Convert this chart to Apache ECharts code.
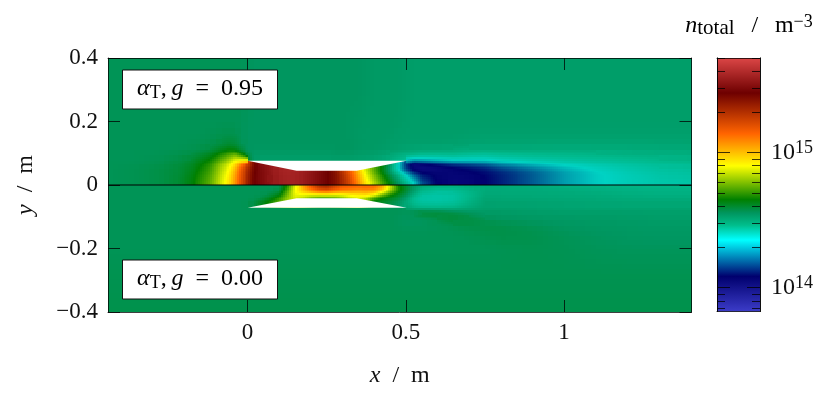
<!DOCTYPE html>
<html><head><meta charset="utf-8">
<style>html,body{margin:0;padding:0;background:#fff}#c{width:831px;height:400px}</style>
<script src="https://cdn.jsdelivr.net/npm/echarts@6/dist/echarts.min.js"></script>
</head><body><div id="c"></div>
<script>
// Field values: v = (log10(n_total) - 14) * 100.
const xEdges=[-0.441,-0.36,-0.28,-0.22,-0.18,-0.15,-0.12,-0.10,-0.08,-0.06,-0.04,-0.02,0,0.02,0.04,0.06,0.08,0.10,0.125,0.15,0.175,0.2,0.225,0.25,0.275,0.3,0.325,0.35,0.375,0.4,0.425,0.45,0.475,0.5,0.525,0.55,0.6,0.65,0.7,0.75,0.8,0.9,1.0,1.1,1.2,1.3,1.403];
const yEdgesUpper=[0.4,0.28,0.2,0.16,0.13,0.11,0.095,0.0765,0.065,0.05,0.04,0.03,0.02,0.01,0];
const yEdgesLower=[0,-0.01,-0.02,-0.03,-0.04,-0.05,-0.0715,-0.08,-0.095,-0.11,-0.13,-0.16,-0.2,-0.28,-0.4];
const upperRows=[
[56,56,56,56,56,56,56,56,56,56,56,56,55,55,55,55,55,55,55,55,55,55,55,55,55,55,55,55,54,54,54,54,54,53,53,53,53,53,53,53,53,53,53,53,53,53],
[56,56,56,56,56,56,56,56,56,56,56,56,55,55,55,55,55,55,55,55,55,55,55,55,55,55,55,55,54,54,54,54,54,53,53,53,53,53,53,53,53,53,53,53,53,53],
[56,56,56,56,56,56,56,56,56,56,56,55,55,55,55,55,55,55,55,55,55,55,55,55,55,55,54,54,54,54,54,54,53,53,53,53,53,53,53,53,53,53,53,53,53,53],
[56,56,56,56,56,56,57,57,58,58,57,55,55,55,55,55,55,55,55,55,55,55,55,55,55,55,55,54,54,54,54,53,53,53,53,53,53,53,52,52,52,52,52,52,52,52],
[56,56,56,56,57,57,58,59,61,62,59,55,55,55,55,55,55,55,55,55,55,55,55,55,55,55,55,54,54,54,53,53,53,52,52,52,52,51,51,51,51,50,50,50,50,51],
[56,56,56,57,57,59,61,64,67,69,67,57,54,54,54,54,54,54,54,54,54,54,54,54,55,55,54,54,54,53,53,52,51,50,50,48,49,48,47,47,48,48,48,49,49,49],
[56,56,57,58,60,63,66,70,75,81,88,68,55,53,53,53,53,53,53,53,53,53,53,53,53,53,53,52,52,51,50,48,45,44,42,40,42,42,38,40,42,44,45,46,47,48],
[56,56,57,59,62,65,70,76,82,88,97,112,132,150,150,153,156,157,158,157,154,150,147,143,134,120,106,90,78,70,60,48,30,5,8,14,20,24,24,28,33,37,40,42,44,46],
[56,57,58,60,63,67,73,79,85,92,106,124,138,146,150,153,156,157,158,157,154,150,147,143,134,120,106,90,78,70,60,48,20,3,2,2,6,9,12,16,23,30,36,39,42,44],
[56,57,58,60,64,68,74,80,87,95,109,126,140,146,149,152,155,157,158,157,154,150,147,143,135,123,110,92,79,68,58,47,30,12,6,4,6,7,9,11,17,25,33,37,41,43],
[56,57,58,60,65,69,75,81,88,96,111,127,141,146,149,152,155,157,157,156,153,150,146,143,136,125,112,94,81,71,61,52,40,22,12,7,6,6,8,10,15,24,32,36,40,42],
[56,57,58,61,65,70,76,82,89,98,112,127,142,146,149,152,154,156,157,156,153,150,146,143,137,127,114,96,84,73,64,55,46,30,18,8,6,5,7,9,15,24,32,36,39,42],
[56,57,58,61,66,71,77,83,90,99,113,128,142,146,149,152,154,156,157,156,153,150,146,143,137,128,116,98,86,76,66,58,49,38,24,9,6,5,7,9,15,24,32,36,39,41],
[56,57,58,61,66,71,77,83,90,99,113,128,142,146,148,152,154,156,157,156,153,149,146,143,137,128,117,100,88,78,68,60,52,42,28,10,6,5,7,9,15,24,32,36,39,41]
];
const lowerRows=[
[56,56,56,56,56,56,56,56,56,56,56,56,56,56,56,56,56,57,78,95,112,122,135,128,118,116,114,112,115,110,97,72,62,58,52,48,48,48,50,50,50,49,48,48,47,47],
[56,56,56,56,56,56,56,56,56,56,56,56,56,56,56,56,56,58,84,95,108,116,125,120,114,112,110,108,112,106,95,75,64,57,50,45,45,46,50,50,50,50,49,48,48,48],
[56,56,56,56,56,56,56,56,56,56,56,56,56,56,56,57,59,62,86,92,98,102,108,104,100,100,100,98,102,92,80,65,62,55,48,42,42,43,50,50,50,50,50,49,48,48],
[56,56,56,56,56,56,56,56,56,56,56,56,56,56,57,60,64,68,88,86,78,72,70,72,74,80,86,88,90,72,64,62,58,50,42,40,41,42,51,51,51,50,50,50,49,49],
[56,56,56,56,56,56,56,56,56,56,56,56,56,57,60,64,68,76,84,86,78,72,70,72,74,80,86,88,66,64,62,60,56,48,42,40,41,43,52,51,51,51,51,50,50,50],
[56,56,56,56,56,56,56,56,56,56,56,56,57,60,65,68,72,76,84,86,78,72,70,72,74,80,86,88,63,62,58,56,52,46,44,42,43,44,52,52,52,52,51,51,51,51],
[56,56,56,56,56,56,56,56,56,56,56,56,56,56,56,56,56,56,56,56,56,56,56,56,56,56,56,56,56,56,56,56,56,54,52,52,52,52,53,53,53,52,52,52,52,52],
[56,56,56,56,56,56,56,56,56,56,56,56,56,56,56,56,56,56,56,56,56,56,56,56,56,56,56,56,56,56,56,56,56,56,60,62,58,55,54,54,54,53,53,53,53,53],
[56,56,56,56,56,56,56,56,56,56,56,56,56,56,56,56,56,56,56,56,56,56,56,56,56,56,56,56,56,56,56,56,55,55,55,56,60,61,56,55,54,54,54,54,53,53],
[56,56,56,56,56,56,56,56,56,56,56,56,56,56,56,56,56,56,56,56,56,56,56,56,56,56,56,56,56,56,56,56,55,55,55,55,56,58,58,57,56,55,54,54,54,54],
[56,56,56,56,56,56,56,56,56,56,56,56,56,56,56,56,56,56,56,56,56,56,56,56,56,56,56,56,56,56,56,56,56,56,56,56,56,56,57,58,58,56,55,55,54,54],
[56,56,56,56,56,56,56,56,56,56,56,56,56,56,56,56,56,56,56,56,56,56,56,56,56,56,56,56,56,56,56,56,56,56,56,56,56,56,56,56,57,57,56,55,55,55],
[56,56,56,56,56,56,56,56,56,56,56,56,56,56,56,56,56,56,56,56,56,56,56,56,56,56,56,56,56,56,56,56,56,56,56,56,56,56,56,56,56,56,56,56,56,56],
[57,57,57,57,57,57,57,57,57,57,57,57,57,57,57,57,57,57,57,57,57,57,57,57,57,57,57,57,57,57,57,57,57,57,57,57,57,57,57,57,57,57,57,57,57,57]
];
const holeUpper=[[0,0.0765],[0.155,0.045],[0.345,0.045],[0.503,0.0765]];
const holeLower=[[0,-0.0715],[0.155,-0.042],[0.345,-0.042],[0.503,-0.0715]];
const xTicks=[0,0.5,1];
const yTicks=[-0.4,-0.2,0,0.2,0.4];
const cbMajor=[14,15];
const cbMinor=[13.845,13.903,13.954,14.301,14.477,14.602,14.699,14.778,14.845,14.903,14.954,15.301,15.477,15.602,15.699];
const barStops=[[-18,[60,60,200]],[8,[0,0,110]],[35,[0,255,255]],[46,[0,190,140]],[55,[0,150,95]],[65,[0,128,0]],[90,[255,255,0]],[114,[255,100,0]],[144,[110,0,0]],[170,[220,70,70]]];
const fieldStops=[[-18,[60,60,200]],[8,[0,0,110]],[35,[0,210,195]],[46,[0,185,140]],[55,[0,150,95]],[65,[0,128,0]],[90,[255,255,0]],[114,[255,100,0]],[144,[110,0,0]],[170,[220,70,70]]];

const vMin=barStops[0][0],vMax=barStops[barStops.length-1][0];
function colorOf(v){
  const st=fieldStops;
  for(let i=1;i<st.length;i++){
    if(v<=st[i][0]){
      const a=st[i-1],b=st[i],t=Math.max(0,(v-a[0])/(b[0]-a[0]));
      return 'rgb('+a[1].map((c,k)=>Math.round(c+(b[1][k]-c)*t)).join(',')+')';
    }
  }
  return 'rgb('+st[st.length-1][1].join(',')+')';
}
// Shading of a cell: the corners take the mean of the cells that meet there, except across the
// wall (the flat edge of the white structure), where the field is not continuous.
function cornerValues(rows,breakEdge,ci,cj){
  const corner=(ex,ey)=>{
    let s=0,n=0;
    for(const a of [ex-1,ex]) for(const b of [ey-1,ey]){
      if(!rows[b]||rows[b][a]===undefined) continue;
      const wall=ey===breakEdge&&b!==cj&&ci>=12&&ci<=32;
      if(wall) continue;
      s+=rows[b][a];n++;
    }
    return s/n;
  };
  return [corner(ci,cj),corner(ci+1,cj),corner(ci,cj+1),corner(ci+1,cj+1)];
}
const cells=[];
function addRows(rows,ye,breakEdge){
  rows.forEach((row,j)=>row.forEach((v,i)=>{
    cells.push([xEdges[i],xEdges[i+1],ye[j],ye[j+1],v].concat(cornerValues(rows,breakEdge,i,j)));
  }));
}
addRows(upperRows,yEdgesUpper,7);addRows(lowerRows,yEdgesLower,6);

const serif='"Liberation Serif"',FS=23,lineC='rgba(0,0,0,0.75)';
const line={show:true,onZero:false,lineStyle:{color:lineC,width:1}};
const fmt=v=>v<0?'\u2212'+Math.abs(v):String(v);
const tick=(vals,len)=>({show:true,inside:true,length:len,customValues:vals,lineStyle:{color:lineC,width:1}});
const none={show:false};
const rich={
 i:{fontFamily:serif,fontStyle:'italic',fontSize:FS+1,color:'#111'},
 r:{fontFamily:serif,fontSize:FS+1,color:'#111'},
 sub:{fontFamily:serif,fontSize:18,color:'#111',verticalAlign:'bottom',lineHeight:26},
 subw:{fontFamily:serif,fontSize:21,color:'#111',verticalAlign:'bottom',lineHeight:26},
 sup:{fontFamily:serif,fontSize:18,color:'#111',verticalAlign:'top',lineHeight:26}
};
const cbBase={gridIndex:1,type:'value',min:13.824,max:15.70,z:10,splitLine:none,axisLine:line};
const chart=echarts.init(document.getElementById('c'),null,{renderer:'canvas'});
chart.setOption({
 animation:false,backgroundColor:'#fff',
 grid:[{left:108,top:58,width:583.5,height:254},{left:717,top:58,width:43,height:253.5}],
 xAxis:[
  {gridIndex:0,type:'value',min:-0.441,max:1.403,position:'bottom',z:10,splitLine:none,axisLine:line,axisTick:tick(xTicks,12),
   axisLabel:{customValues:xTicks,color:'#111',fontFamily:serif,fontSize:FS,margin:9,formatter:fmt},
   name:'{i|x}{r|\u2002/\u2002m}',nameLocation:'middle',nameGap:52,nameTextStyle:{rich}},
  {gridIndex:0,type:'value',min:-0.441,max:1.403,position:'top',z:10,splitLine:none,axisLine:line,axisTick:tick(xTicks,12),axisLabel:none},
  {gridIndex:1,type:'value',min:0,max:1,z:10,splitLine:none,axisLine:line,axisTick:none,axisLabel:none},
  {gridIndex:1,type:'value',min:0,max:1,position:'top',z:10,splitLine:none,axisLine:line,axisTick:none,axisLabel:none}
 ],
 yAxis:[
  {gridIndex:0,type:'value',min:-0.4,max:0.4,position:'left',z:10,splitLine:none,axisLine:line,axisTick:tick(yTicks,12),
   axisLabel:{customValues:yTicks,color:'#111',fontFamily:serif,fontSize:FS,margin:10,formatter:fmt},
   name:'{i|y}{r|\u2002/\u2002m}',nameLocation:'middle',nameGap:70,nameRotate:90,nameTextStyle:{rich}},
  {gridIndex:0,type:'value',min:-0.4,max:0.4,position:'right',z:10,splitLine:none,axisLine:line,axisTick:tick(yTicks,12),axisLabel:none},
  Object.assign({},cbBase,{position:'left',axisTick:tick(cbMinor,8),axisLabel:none}),
  Object.assign({},cbBase,{position:'right',axisTick:tick(cbMinor,8),axisLabel:none}),
  Object.assign({},cbBase,{position:'left',axisTick:tick(cbMajor,13),axisLabel:none}),
  Object.assign({},cbBase,{position:'right',axisTick:tick(cbMajor,13),
   axisLabel:{customValues:cbMajor,margin:11,formatter:v=>'{r|10}{sup|'+v+'}',rich}})
 ],
 series:[
  {type:'custom',xAxisIndex:0,yAxisIndex:0,z:2,silent:true,clip:true,progressive:0,data:cells,encode:{x:[0,1],y:[2,3]},
   renderItem(p,api){
     const a=api.coord([api.value(0),api.value(2)]),b=api.coord([api.value(1),api.value(3)]);
     const x0=Math.round(a[0]),y0=Math.round(a[1]),x1=Math.round(b[0]),y1=Math.round(b[1]);
     const c=[api.value(5),api.value(6),api.value(7),api.value(8)];
     const spread=Math.max.apply(null,c)-Math.min.apply(null,c);
     const step=spread<0.01?1e4:spread<3?5:2;
     const nx=Math.max(1,Math.round((x1-x0)/step)),ny=Math.max(1,Math.round((y1-y0)/step));
     const children=[];
     for(let m=0;m<ny;m++) for(let k=0;k<nx;k++){
       const u=(k+.5)/nx,t=(m+.5)/ny;
       const v=(c[0]*(1-u)+c[1]*u)*(1-t)+(c[2]*(1-u)+c[3]*u)*t;
       const sx=x0+Math.round((x1-x0)*k/nx),ex=x0+Math.round((x1-x0)*(k+1)/nx);
       const sy=y0+Math.round((y1-y0)*m/ny),ey=y0+Math.round((y1-y0)*(m+1)/ny);
       children.push({type:'rect',shape:{x:sx,y:sy,width:ex-sx,height:ey-sy},style:{fill:colorOf(v)}});
     }
     return {type:'group',children};
   }},
  {type:'custom',xAxisIndex:0,yAxisIndex:0,z:3,silent:true,clip:true,data:[[0,0,0],[0,0,1]],encode:{x:0,y:1},
   renderItem(p,api){
     const h=p.dataIndex===0?holeUpper:holeLower;
     return {type:'polygon',shape:{points:h.map(q=>api.coord(q))},style:{fill:'#fff'}};
   }},
  {type:'line',xAxisIndex:0,yAxisIndex:0,z:4,silent:true,symbol:'none',data:[[-0.441,0],[1.403,0]],lineStyle:{color:'#000',width:1.2}},
  {type:'custom',xAxisIndex:2,yAxisIndex:2,z:2,silent:true,data:[[0,13.824,1,15.70]],encode:{x:[0,2],y:[1,3]},
   renderItem(p,api){
     const a=api.coord([api.value(0),api.value(3)]),b=api.coord([api.value(2),api.value(1)]);
     return {type:'rect',shape:{x:a[0],y:a[1],width:b[0]-a[0],height:b[1]-a[1]},
      style:{fill:new echarts.graphic.LinearGradient(0,1,0,0,barStops.map(s=>({offset:(s[0]-vMin)/(vMax-vMin),color:'rgb('+s[1].join(',')+')'})))}};
   }}
 ],
 graphic:[
  {type:'rect',z:20,shape:{x:122.5,y:70,width:155,height:39},style:{fill:'#fff',stroke:'#111',lineWidth:1}},
  {type:'rect',z:20,shape:{x:122.5,y:260,width:155,height:39},style:{fill:'#fff',stroke:'#111',lineWidth:1}},
  {type:'text',z:21,x:200,y:89,style:{text:'{i|\u03b1}{sub|T}{r|,\u2009}{i|g}{r|\u2002=\u20020.95}',rich,align:'center',verticalAlign:'middle'}},
  {type:'text',z:21,x:200,y:279,style:{text:'{i|\u03b1}{sub|T}{r|,\u2009}{i|g}{r|\u2002=\u20020.00}',rich,align:'center',verticalAlign:'middle'}},
  {type:'text',z:21,x:749,y:26,style:{text:'{i|n}{subw|total}{r|\u2002\u2009/\u2002\u2009m}{sup|\u22123}',rich,align:'center',verticalAlign:'middle'}}
 ]
});
</script></body></html>
